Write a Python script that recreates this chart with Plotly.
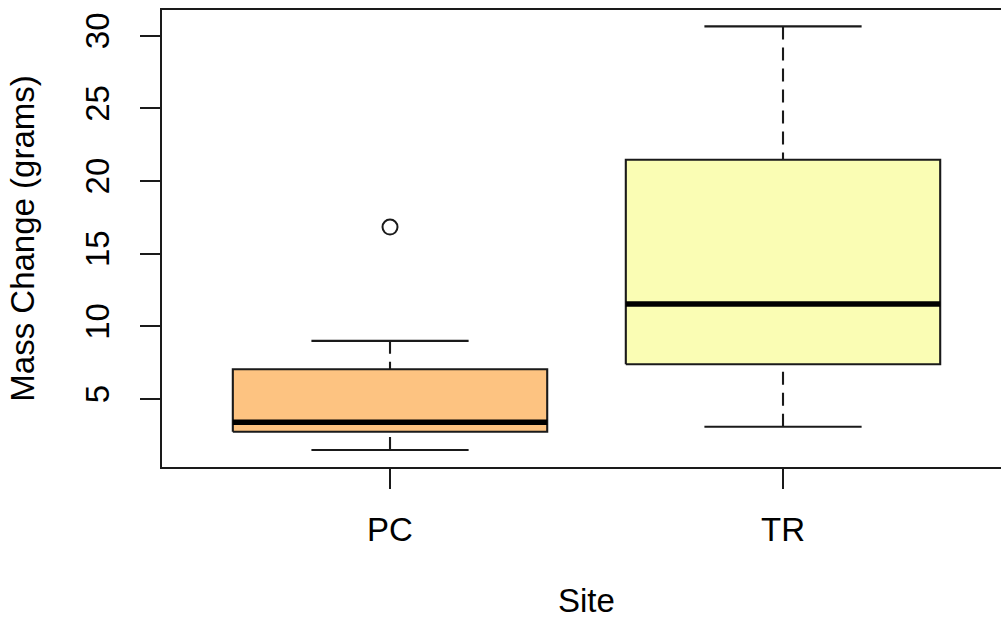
import plotly.graph_objects as go

# ---- data ----
sites = ["PC", "TR"]
site_pos = [1, 2]
lower_whisker = [1.49, 3.09]
q1 = [2.75, 7.39]
median = [3.40, 11.54]
q3 = [7.05, 21.46]
upper_whisker = [9.00, 30.64]
outlier_pos = [1]
outlier_value = [16.83]
fill_colors = ["#FDC381", "#FAFDB4"]
y_ticks = [5, 10, 15, 20, 25, 30]

# ---- style ----
BOX_HALF = 0.4
CAP_HALF = 0.2
LINE = "#1a1a1a"
LW = 2.1
FONT = "Liberation Sans, Arial, Helvetica, sans-serif"
FS = 33

fig = go.Figure()
for i, s in enumerate(sites):
    c = site_pos[i]
    # dashed whiskers, drawn from whisker end toward the hinge (as R does)
    for a, b in ((upper_whisker[i], q3[i]), (lower_whisker[i], q1[i])):
        fig.add_trace(go.Scatter(x=[c, c], y=[a, b], mode="lines",
                                 line=dict(color=LINE, width=LW, dash="13px,8px"),
                                 hoverinfo="skip", showlegend=False))
    # whisker caps
    for v in (upper_whisker[i], lower_whisker[i]):
        fig.add_trace(go.Scatter(x=[c - CAP_HALF, c + CAP_HALF], y=[v, v], mode="lines",
                                 line=dict(color=LINE, width=LW),
                                 hoverinfo="skip", showlegend=False))
    # box
    fig.add_trace(go.Scatter(
        x=[c - BOX_HALF, c + BOX_HALF, c + BOX_HALF, c - BOX_HALF, c - BOX_HALF],
        y=[q1[i], q1[i], q3[i], q3[i], q1[i]],
        mode="lines", fill="toself", fillcolor=fill_colors[i],
        line=dict(color=LINE, width=LW), name=s, showlegend=False))
    # median
    fig.add_trace(go.Scatter(x=[c - BOX_HALF, c + BOX_HALF], y=[median[i], median[i]],
                             mode="lines", line=dict(color="#000000", width=5.5),
                             hoverinfo="skip", showlegend=False))

# outlier
fig.add_trace(go.Scatter(x=outlier_pos, y=outlier_value, mode="markers",
                         marker=dict(symbol="circle-open", size=15, color=LINE,
                                     line=dict(width=2, color=LINE)),
                         showlegend=False))

fig.update_layout(
    width=1001, height=621,
    margin=dict(l=162, r=0, t=10, b=154, pad=0),
    plot_bgcolor="white", paper_bgcolor="white",
    font=dict(family=FONT, size=FS, color="#000000"),
    showlegend=False,
    annotations=[dict(text="Site", xref="paper", yref="paper",
                      x=0.5059, y=-0.2932, xanchor="center", yanchor="middle",
                      borderpad=0,
                      showarrow=False, font=dict(size=FS))],
)
fig.update_xaxes(
    range=[0.4198, 2.5547], tickmode="array", tickvals=site_pos, ticktext=sites,
    showline=True, linecolor=LINE, linewidth=LW, mirror=True,
    ticks="outside", ticklen=20, tickwidth=LW, tickcolor=LINE,
    showgrid=False, zeroline=False,
    ticklabelstandoff=12,
    automargin=False,
)
fig.update_yaxes(
    range=[0.32, 31.77], tickmode="array", tickvals=y_ticks,
    tickangle=-90,
    showline=True, linecolor=LINE, linewidth=LW, mirror=False,
    ticks="outside", ticklen=20, tickwidth=LW, tickcolor=LINE,
    showgrid=False, zeroline=False,
    ticklabelstandoff=18,
    title=dict(text="Mass Change (grams)", font=dict(size=FS), standoff=34),
    automargin=False,
)

fig.write_html("out.html", config={"displayModeBar": False},
               post_script="document.body.style.margin='0px';")
